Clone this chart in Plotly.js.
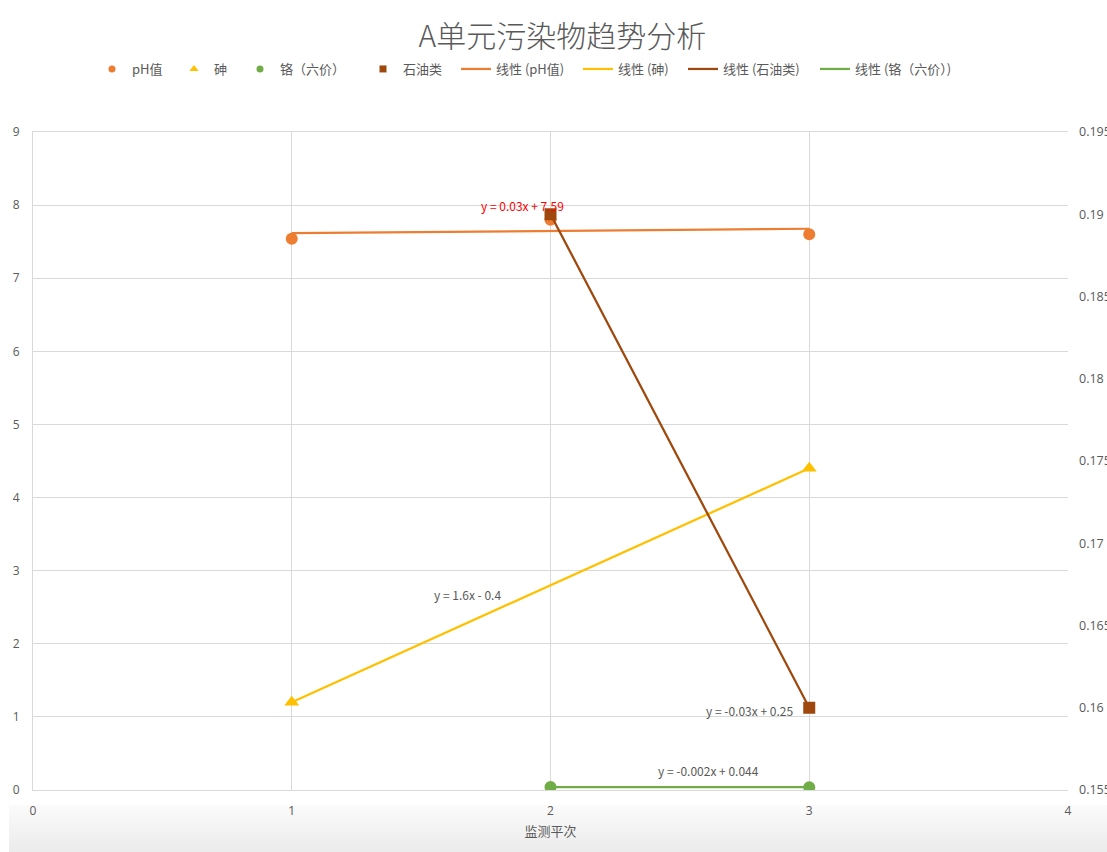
<!DOCTYPE html>
<html>
<head>
<meta charset="utf-8">
<script src="https://cdn.plot.ly/plotly-3.0.1.min.js"></script>
<style>
  html, body { margin: 0; padding: 0; background: #ffffff; }
  #wrap { position: relative; width: 1107px; height: 852px; overflow: hidden; }
  #band { position: absolute; left: 9px; top: 805px; width: 1098px; height: 47px;
          background: linear-gradient(#fbfbfb, #ebebeb); }
  #chart { position: absolute; left: 0; top: 0; width: 1107px; height: 852px; }
</style>
</head>
<body>
<div id="wrap">
  <div id="band"></div>
  <div id="chart"></div>
</div>
<script>
// Monitoring rounds and measured values per pollutant
const phX = [1, 2, 3];
const phY = [7.54, 7.8, 7.6];
const arsenicX = [1, 3];
const arsenicY = [1.2, 4.4];
const chromiumX = [2, 3];
const chromiumY = [0.04, 0.038];
const oilX = [2, 3];
const oilY = [0.19, 0.16];

const leftTicks = [0, 1, 2, 3, 4, 5, 6, 7, 8, 9];
const rightTicks = [0.155, 0.16, 0.165, 0.17, 0.175, 0.18, 0.185, 0.19, 0.195];
const xTicks = [0, 1, 2, 3, 4];

const C_PH = '#ED7D31', C_AS = '#FFC000', C_CR = '#70AD47', C_OIL = '#9E480E';
const TXT = '#595959';
const FONT = '"Noto Sans CJK SC", "Open Sans", sans-serif';

// Least-squares linear fit
function linFit(xs, ys) {
  const n = xs.length;
  const mx = xs.reduce((a, b) => a + b, 0) / n;
  const my = ys.reduce((a, b) => a + b, 0) / n;
  let sxy = 0, sxx = 0;
  for (let i = 0; i < n; i++) { sxy += (xs[i] - mx) * (ys[i] - my); sxx += (xs[i] - mx) ** 2; }
  const m = sxy / sxx;
  return { m: m, b: my - m * mx };
}
function fitLine(xs, ys) {
  const f = linFit(xs, ys);
  const x0 = Math.min(...xs), x1 = Math.max(...xs);
  return { x: [x0, x1], y: [f.m * x0 + f.b, f.m * x1 + f.b], f: f };
}
function r3(v) { return Number(v.toPrecision(3)); }
function eqText(f) {
  const b = r3(f.b);
  return 'y = ' + r3(f.m) + 'x ' + (b < 0 ? '- ' + Math.abs(b) : '+ ' + b);
}

const phFit = fitLine(phX, phY);
const asFit = fitLine(arsenicX, arsenicY);
const oilFit = fitLine(oilX, oilY);
const crFit = fitLine(chromiumX, chromiumY);

// Plotted marks (legend entries are drawn by the small key traces below)
const marks = [
  { x: phFit.x, y: phFit.y, mode: 'lines', line: { color: C_PH, width: 2.25 } },
  { x: asFit.x, y: asFit.y, mode: 'lines', line: { color: C_AS, width: 2.25 } },
  { x: oilFit.x, y: oilFit.y, mode: 'lines', yaxis: 'y2', line: { color: C_OIL, width: 2.25 } },
  { x: crFit.x, y: crFit.y, mode: 'lines', line: { color: C_CR, width: 2.25 } },
  { x: phX, y: phY, mode: 'markers', marker: { color: C_PH, size: 12, symbol: 'circle' } },
  { x: arsenicX, y: arsenicY, mode: 'markers', marker: { color: C_AS, size: 13, symbol: 'triangle-up' } },
  { x: chromiumX, y: chromiumY, mode: 'markers', marker: { color: C_CR, size: 12, symbol: 'circle' } },
  { x: oilX, y: oilY, mode: 'markers', yaxis: 'y2', marker: { color: C_OIL, size: 12, symbol: 'square' } }
].map(t => Object.assign({ type: 'scatter', showlegend: false }, t));

// Legend key entries: name, style and left edge (px) of each entry
const keyNames = ['pH值', '砷', '铬（六价）', '石油类', '线性 (pH值)', '线性 (砷)', '线性 (石油类)', '线性 (铬（六价）)'];
const keyStyles = [
  { mode: 'markers', marker: { color: C_PH, size: 7, symbol: 'circle' } },
  { mode: 'markers', marker: { color: C_AS, size: 8, symbol: 'triangle-up' } },
  { mode: 'markers', marker: { color: C_CR, size: 7, symbol: 'circle' } },
  { mode: 'markers', marker: { color: C_OIL, size: 7, symbol: 'square' } },
  { mode: 'lines', line: { color: C_PH, width: 2.25 } },
  { mode: 'lines', line: { color: C_AS, width: 2.25 } },
  { mode: 'lines', line: { color: C_OIL, width: 2.25 } },
  { mode: 'lines', line: { color: C_CR, width: 2.25 } }
];
const keyLeft = [92, 174, 240, 363, 456, 578, 683, 815];

const keys = keyNames.map((name, i) => Object.assign({
  type: 'scatter', x: [null], y: [null], name: name, showlegend: true,
  legend: i === 0 ? 'legend' : 'legend' + (i + 1)
}, keyStyles[i]));

const annFont = { family: FONT, size: 12, color: TXT };
const layout = {
  width: 1107, height: 852,
  paper_bgcolor: 'rgba(0,0,0,0)', plot_bgcolor: '#ffffff',
  margin: { l: 33, r: 39, t: 132, b: 62 },
  font: { family: FONT, color: TXT, size: 12 },
  title: { text: 'A单元污染物趋势分析', x: 0.508, xanchor: 'center', yref: 'container',
           y: 1 - 36 / 852, yanchor: 'middle',
           font: { family: FONT, size: 30, color: TXT, weight: 300 } },
  showlegend: true,
  xaxis: { range: [0, 4], tickvals: xTicks, ticktext: xTicks.map(String),
           showgrid: true, gridcolor: '#d9d9d9', gridwidth: 1,
           showline: true, linecolor: '#d9d9d9', mirror: true, zeroline: false,
           ticks: '', ticklabelstandoff: 10,
           tickfont: { family: '"Open Sans", sans-serif', size: 12, color: TXT },
           title: { text: '监测平次', font: { family: FONT, size: 13, color: TXT }, standoff: 8 } },
  yaxis: { range: [0, 9], tickvals: leftTicks, ticktext: leftTicks.map(String),
           showgrid: true, gridcolor: '#d9d9d9', gridwidth: 1,
           showline: true, linecolor: '#d9d9d9', zeroline: false,
           ticks: '', ticklabelstandoff: 10,
           tickfont: { family: '"Open Sans", sans-serif', size: 12, color: TXT } },
  yaxis2: { range: [0.155, 0.195], overlaying: 'y', side: 'right',
            tickvals: rightTicks, ticktext: rightTicks.map(String),
            showgrid: false, zeroline: false, showline: false, ticks: '',
            ticklabelstandoff: 10,
            tickfont: { family: '"Open Sans", sans-serif', size: 12.5, color: TXT } },
  annotations: [
    { x: 1.89, y: 7.99, xref: 'x', yref: 'y', text: eqText(phFit.f), showarrow: false,
      font: { family: FONT, size: 12, color: '#FF0000' } },
    { x: 1.68, y: 2.67, xref: 'x', yref: 'y', text: eqText(asFit.f), showarrow: false, font: annFont },
    { x: 2.77, y: 1.09, xref: 'x', yref: 'y', text: eqText(oilFit.f), showarrow: false, font: annFont },
    { x: 2.61, y: 0.26, xref: 'x', yref: 'y', text: eqText(crFit.f), showarrow: false, font: annFont }
  ]
};
keyLeft.forEach((px, i) => {
  layout[i === 0 ? 'legend' : 'legend' + (i + 1)] = {
    orientation: 'h', xref: 'container', yref: 'container',
    x: px / 1107, xanchor: 'left', y: 1 - 69 / 852, yanchor: 'middle',
    itemwidth: 30, bgcolor: 'rgba(0,0,0,0)', borderwidth: 0,
    font: { family: FONT, size: 13, color: TXT }
  };
});

Plotly.newPlot('chart', marks.concat(keys), layout, { staticPlot: true, displayModeBar: false });
</script>
</body>
</html>
